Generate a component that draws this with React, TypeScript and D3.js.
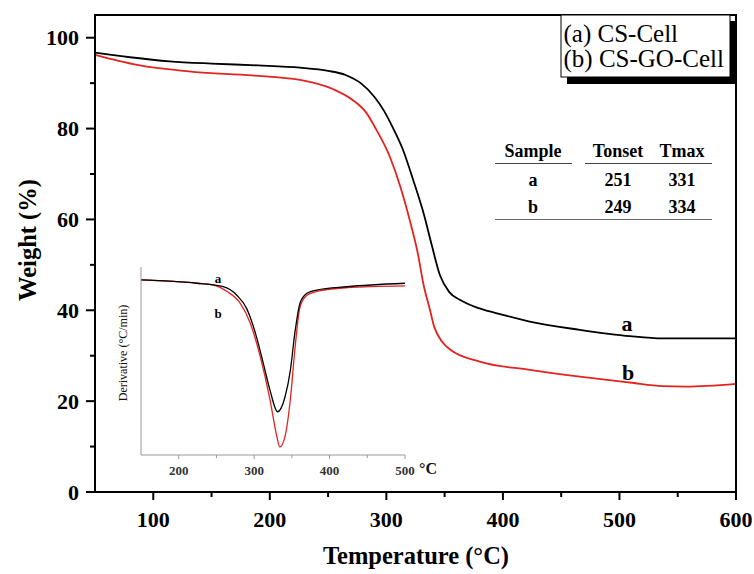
import React from "react";
import * as d3 from "d3";

// Main TGA curves: [temperature °C, weight %]
const seriesA: [number, number][] = [
  [50, 96.7], [80, 95.7], [114, 94.8], [150, 94.3], [190, 93.9], [226, 93.4], [250, 92.7],
  [265, 91.8], [278, 90.0], [290, 86.9], [298, 83.9], [305, 80.5], [314, 75.5], [323, 68.7],
  [332, 61.3], [339, 54.3], [346, 47.7], [354, 44.0], [363, 42.3], [380, 40.4], [400, 39.0],
  [423, 37.5], [466, 35.7], [509, 34.3], [537, 33.8], [600, 33.8],
];
const seriesB: [number, number][] = [
  [50, 96.2], [86, 94.0], [134, 92.5], [185, 91.7], [226, 90.7], [254, 88.7], [271, 86.3],
  [283, 83.4], [290, 80.4], [303, 73.8], [312, 67.2], [320, 59.9], [327, 52.5], [332, 45.5],
  [337, 40.5], [341, 36.4], [348, 33.0], [355, 31.3], [380, 28.7], [423, 26.9], [466, 25.4],
  [509, 24.1], [537, 23.3], [557, 23.2], [600, 23.8],
];

// Inset DTG curves: [temperature °C, derivative]
const dtgA: [number, number][] = [
  [150, 0.062], [224, 0.027], [259, -0.01], [277, -0.1], [290, -0.24], [303, -0.54], [312, -0.82],
  [321, -1.11], [331, -1.34], [341, -1.18], [348, -0.9], [354, -0.5], [361, -0.18], [370, -0.08],
  [383, -0.045], [423, -0.01], [500, 0.027],
];
const dtgB: [number, number][] = [
  [150, 0.062], [224, 0.027], [245, 0.01], [264, -0.06], [281, -0.18], [295, -0.4], [308, -0.75],
  [321, -1.21], [330, -1.6], [334, -1.715], [341, -1.6], [348, -1.21], [354, -0.68], [361, -0.22],
  [370, -0.1], [383, -0.06], [423, -0.02], [500, 0.0],
];

const xTicks = [100, 200, 300, 400, 500, 600];
const xMinor = [150, 250, 350, 450, 550];
const yTicks = [0, 20, 40, 60, 80, 100];
const yMinor = [10, 30, 50, 70, 90];
const insetTicks = [200, 300, 400, 500];
const insetMinor = [250, 350, 450];

const legendLabels = ["(a) CS-Cell", "(b) CS-GO-Cell"];
const tableHeader = ["Sample", "Tonset", "Tmax"];
const tableRows = [
  ["a", "251", "331"],
  ["b", "249", "334"],
];

const SERIF = "'Liberation Serif', 'Times New Roman', serif";
const RED = "#e3231f";

export default function App() {
  const W = 754, H = 574;
  const left = 95, right = 736, top = 15, bottom = 492;
  const x = d3.scaleLinear().domain([50, 600]).range([left, right]);
  const y = d3.scaleLinear().domain([0, 105]).range([bottom, top]);

  const line = d3.line<[number, number]>()
    .x(d => x(d[0])).y(d => y(d[1])).curve(d3.curveMonotoneX);

  // inset
  const ix = d3.scaleLinear().domain([150, 500]).range([141, 405]);
  const iy = d3.scaleLinear().domain([-1.8, 0.2]).range([455, 267]);
  const iline = d3.line<[number, number]>()
    .x(d => ix(d[0])).y(d => iy(d[1])).curve(d3.curveMonotoneX);

  const tableCols = [533, 618, 682];

  return (
    <svg width={W} height={H} style={{ position: "absolute", left: 0, top: 0, background: "#fff" }}
      fontFamily={SERIF}>
      <rect x={0} y={0} width={W} height={H} fill="#fff" />

      {/* curves */}
      <path d={line(seriesA) || ""} fill="none" stroke="#000" strokeWidth={1.8} />
      <path d={line(seriesB) || ""} fill="none" stroke={RED} strokeWidth={1.8} />

      {/* frame */}
      <rect x={left} y={top} width={right - left} height={bottom - top} fill="none" stroke="#000" strokeWidth={2} />

      {/* x ticks */}
      {xTicks.map(t => (
        <g key={"xt" + t}>
          <line x1={x(t)} x2={x(t)} y1={bottom} y2={bottom + 8} stroke="#000" strokeWidth={2} />
          <text x={x(t)} y={527} textAnchor="middle" fontSize={22} fontWeight="bold">{t}</text>
        </g>
      ))}
      {xMinor.map(t => (
        <line key={"xm" + t} x1={x(t)} x2={x(t)} y1={bottom} y2={bottom + 5} stroke="#000" strokeWidth={2} />
      ))}
      {/* y ticks */}
      {yTicks.map(t => (
        <g key={"yt" + t}>
          <line x1={left - 9} x2={left} y1={y(t)} y2={y(t)} stroke="#000" strokeWidth={2} />
          <text x={79} y={y(t) + 7.5} textAnchor="end" fontSize={22} fontWeight="bold">{t}</text>
        </g>
      ))}
      {yMinor.map(t => (
        <line key={"ym" + t} x1={left - 5} x2={left} y1={y(t)} y2={y(t)} stroke="#000" strokeWidth={2} />
      ))}

      <text x={416} y={564} textAnchor="middle" fontSize={24.5} fontWeight="bold">Temperature (°C)</text>
      <text transform={`translate(36,240) rotate(-90)`} textAnchor="middle" fontSize={24.5} fontWeight="bold">Weight (%)</text>

      {/* curve labels */}
      <text x={627} y={331} textAnchor="middle" fontSize={22} fontWeight="bold">a</text>
      <text x={628} y={380} textAnchor="middle" fontSize={22} fontWeight="bold">b</text>

      {/* legend */}
      <rect x={567} y={21} width={170} height={63} fill="#000" />
      <rect x={561} y={15} width={169} height={62} fill="#fff" stroke="#000" strokeWidth={1} />
      {legendLabels.map((l, i) => (
        <text key={l} x={563.5} y={42 + i * 25} fontSize={25}>{l}</text>
      ))}

      {/* table */}
      {tableHeader.map((h, i) => (
        <text key={h} x={tableCols[i]} y={157} textAnchor="middle" fontSize={18} fontWeight="bold">{h}</text>
      ))}
      <line x1={495} x2={572} y1={163.5} y2={163.5} stroke="#444" strokeWidth={1} />
      <line x1={585} x2={712} y1={163.5} y2={163.5} stroke="#444" strokeWidth={1} />
      {tableRows.map((r, ri) => r.map((c, ci) => (
        <text key={ri + "-" + ci} x={tableCols[ci]} y={186 + ri * 27} textAnchor="middle" fontSize={18} fontWeight="bold">{c}</text>
      )))}
      <line x1={495} x2={712} y1={219.5} y2={219.5} stroke="#666" strokeWidth={1} />

      {/* inset */}
      <rect x={141} y={267} width={264} height={188} fill="#fff" />
      <path d={iline(dtgB) || ""} fill="none" stroke={RED} strokeWidth={1.3} />
      <path d={iline(dtgA) || ""} fill="none" stroke="#000" strokeWidth={1.3} />
      <line x1={141} x2={141} y1={267} y2={455} stroke="#999" strokeWidth={1} />
      <line x1={141} x2={405} y1={455} y2={455} stroke="#999" strokeWidth={1} />
      {insetTicks.map(t => (
        <g key={"it" + t}>
          <line x1={ix(t)} x2={ix(t)} y1={455} y2={459} stroke="#999" strokeWidth={1} />
          <text x={ix(t)} y={475} textAnchor="middle" fontSize={13} fontWeight="bold" fill="#333">{t}</text>
        </g>
      ))}
      {insetMinor.map(t => (
        <line key={"im" + t} x1={ix(t)} x2={ix(t)} y1={455} y2={458} stroke="#999" strokeWidth={1} />
      ))}
      <text x={419} y={474} fontSize={16} fontWeight="bold" fill="#111">°C</text>
      <text transform={`translate(127,353) rotate(-90)`} textAnchor="middle" fontSize={12} fill="#111">Derivative (°C/min)</text>
      <text x={218} y={283} textAnchor="middle" fontSize={13} fontWeight="bold">a</text>
      <text x={218} y={318} textAnchor="middle" fontSize={13} fontWeight="bold">b</text>
    </svg>
  );
}
